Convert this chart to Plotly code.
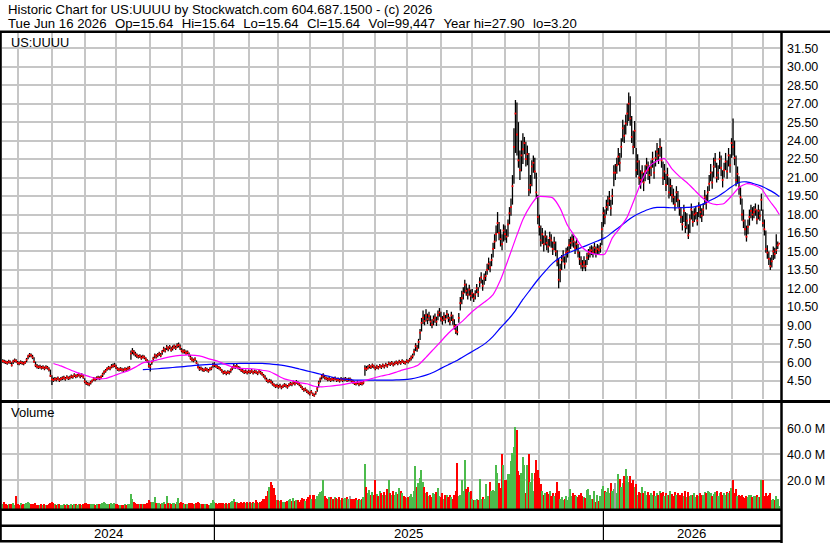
import pandas as pd
import plotly.graph_objects as go

# trading days shown on the chart
days = pd.bdate_range("2024-06-17", "2026-06-16")

# daily closes, one row per week (Mon..Fri)
closes = [
    6.10, 6.05, 6.00, 5.95, 6.05,
    6.00, 5.75, 6.05, 6.15, 6.10,
    5.95, 5.90, 6.00, 5.95, 5.90,
    6.00, 6.20, 6.45, 6.60, 6.55,
    6.40, 6.05, 5.75, 5.65, 5.60,
    5.65, 5.55, 5.60, 5.50, 5.60,
    5.55, 5.40, 4.90, 4.60, 4.55,
    4.65, 4.60, 4.70, 4.55, 4.65,
    4.70, 4.75, 4.65, 4.80, 4.70,
    4.75, 4.85, 4.80, 4.95, 4.85,
    4.90, 5.00, 4.85, 4.95, 4.80,
    4.45, 4.30, 4.25, 4.20, 4.35,
    4.50, 4.65, 4.60, 4.70, 4.75,
    4.70, 4.80, 5.00, 5.20, 5.30,
    5.45, 5.55, 5.50, 5.65, 5.70,
    5.75, 5.60, 5.45, 5.40, 5.45,
    5.40, 5.35, 5.45, 5.40, 5.50,
    5.55, 6.70, 6.90, 6.80, 6.65,
    6.55, 6.45, 6.50, 6.35, 6.45,
    6.40, 6.25, 6.10, 5.70, 5.65,
    6.00, 6.30, 6.55, 6.45, 6.60,
    6.70, 6.55, 6.85, 7.05, 6.95,
    7.20, 7.10, 7.25, 7.00, 7.15,
    7.30, 7.15, 7.35, 7.40, 7.20,
    6.95, 6.85, 6.90, 6.75, 6.80,
    6.60, 6.35, 6.20, 6.15, 6.25,
    5.95, 5.60, 5.45, 5.50, 5.40,
    5.35, 5.45, 5.40, 5.30, 5.45,
    5.50, 5.75, 5.80, 5.70, 5.60,
    5.55, 5.45, 5.30, 5.15, 5.20,
    5.10, 5.20, 5.15, 5.35, 5.55,
    5.65, 5.60, 5.70, 5.55, 5.50,
    5.35, 5.30, 5.20, 5.25, 5.15,
    5.25, 5.20, 5.30, 5.15, 5.25,
    5.20, 5.10, 5.25, 5.15, 5.05,
    4.90, 4.75, 4.55, 4.45, 4.50,
    4.40, 4.25, 4.15, 4.05, 4.10,
    4.00, 4.10, 3.95, 4.05, 4.15,
    4.10, 4.00, 4.15, 4.25, 4.20,
    4.35, 4.25, 4.40, 4.30, 4.20,
    4.05, 3.90, 3.75, 3.80, 3.65,
    3.55, 3.45, 3.60, 3.40, 3.30,
    3.55, 3.85, 4.30, 4.60, 4.85,
    4.95, 4.75, 4.70, 4.60, 4.65,
    4.55, 4.65, 4.60, 4.70, 4.55,
    4.60, 4.50, 4.65, 4.55, 4.60,
    4.65, 4.55, 4.60, 4.60, 4.50,
    4.40, 4.30, 4.25, 4.35, 4.20,
    4.30, 4.25, 4.35, 5.50, 5.45,
    5.55, 5.70, 5.60, 5.75, 5.65,
    5.50, 5.65, 5.55, 5.70, 5.60,
    5.75, 5.65, 5.80, 5.70, 5.90,
    5.85, 5.95, 5.80, 5.90, 6.00,
    5.90, 6.05, 5.95, 6.10, 6.00,
    5.95, 6.10, 6.05, 6.20, 6.35,
    6.50, 6.85, 7.30, 7.10, 7.65,
    8.40, 9.20, 9.60, 9.35, 9.80,
    9.50, 9.75, 9.30, 9.05, 9.45,
    9.60, 9.30, 9.85, 10.05, 9.55,
    9.40, 9.70, 9.50, 9.90, 9.60,
    9.30, 9.80, 9.45, 8.95, 8.55,
    8.45, 9.60, 10.80, 11.20, 11.60,
    12.30, 11.80, 11.50, 11.90, 11.40,
    11.60, 11.20, 11.50, 12.00, 11.70,
    12.50, 12.90, 12.20, 12.80, 13.00,
    13.50, 14.00, 13.70, 14.30, 15.20,
    15.80, 16.40, 17.30, 16.50, 16.00,
    15.60, 16.70, 16.40, 16.20, 17.20,
    18.10, 18.60, 20.30, 23.50, 26.20,
    24.50, 22.40, 21.60, 22.80, 23.30,
    23.80, 22.50, 22.90, 20.00, 20.40,
    21.90, 22.20, 21.50, 19.80, 17.80,
    17.00, 15.90, 16.40, 15.60, 16.20,
    15.70, 15.40, 16.10, 15.90, 15.20,
    15.70, 15.00, 14.20, 12.70, 13.50,
    14.30, 14.60, 14.00, 14.90, 15.00,
    15.50, 15.70, 16.00, 15.80, 15.30,
    15.60, 14.90, 14.40, 14.00, 13.80,
    14.10, 13.80, 14.50, 14.80, 15.00,
    15.10, 14.90, 15.30, 15.00, 15.20,
    15.10, 15.30, 16.80, 18.10, 17.80,
    18.60, 18.90, 19.30, 18.50, 19.50,
    21.40, 21.40, 22.00, 22.70, 22.20,
    23.50, 25.00, 24.40, 25.40, 26.20,
    27.00, 25.80, 24.30, 23.50, 24.80,
    21.60, 22.30, 21.00, 20.80, 21.40,
    20.60, 21.50, 22.00, 21.60, 21.20,
    21.80, 22.50, 21.40, 22.60, 23.10,
    22.80, 23.50, 22.40, 21.00, 21.50,
    20.40, 21.20, 19.80, 20.30, 19.60,
    19.40, 18.80, 19.80, 19.20, 18.50,
    17.80, 17.20, 18.30, 17.00, 17.50,
    16.30, 17.60, 18.40, 17.40, 18.00,
    18.10, 17.50, 18.60, 18.20, 17.90,
    18.40, 19.40, 18.90, 19.80, 20.50,
    21.40, 20.60, 21.90, 22.40, 21.00,
    21.40, 22.50, 21.80, 20.80, 21.60,
    22.30, 21.50, 22.80, 22.00, 23.80,
    23.50, 22.60, 20.80, 21.30, 20.20,
    19.40, 18.00, 17.50, 16.80, 16.20,
    17.00, 17.80, 18.30, 18.00, 18.20,
    18.40, 17.60, 18.30, 17.90, 19.20,
    17.30, 16.80, 15.20, 14.90, 14.40,
    13.80, 14.20, 15.00, 14.80, 15.10,
    15.50, 15.64,
]

highs = [
    6.25, 6.20, 6.15, 6.10, 6.20,
    6.15, 6.00, 6.20, 6.30, 6.25,
    6.10, 6.05, 6.15, 6.10, 6.05,
    6.10, 6.35, 6.60, 6.75, 6.70,
    6.60, 6.40, 6.05, 5.85, 5.75,
    5.80, 5.70, 5.75, 5.65, 5.75,
    5.70, 5.60, 5.40, 4.95, 4.75,
    4.80, 4.75, 4.85, 4.70, 4.80,
    4.85, 4.90, 4.80, 4.95, 4.85,
    4.90, 5.00, 4.95, 5.10, 5.00,
    5.05, 5.15, 5.00, 5.10, 4.95,
    4.70, 4.50, 4.40, 4.35, 4.50,
    4.60, 4.80, 4.75, 4.85, 4.90,
    4.85, 4.95, 5.15, 5.35, 5.45,
    5.60, 5.70, 5.65, 5.85, 5.90,
    5.95, 5.80, 5.60, 5.55, 5.60,
    5.55, 5.50, 5.60, 5.55, 5.65,
    5.70, 6.95, 7.15, 7.00, 6.85,
    6.70, 6.60, 6.65, 6.55, 6.60,
    6.55, 6.40, 6.25, 6.15, 5.85,
    6.15, 6.45, 6.70, 6.65, 6.75,
    6.85, 6.75, 7.00, 7.25, 7.15,
    7.40, 7.30, 7.40, 7.25, 7.35,
    7.45, 7.35, 7.55, 7.60, 7.45,
    7.15, 7.05, 7.05, 6.95, 6.95,
    6.80, 6.60, 6.40, 6.30, 6.40,
    6.15, 5.90, 5.65, 5.65, 5.55,
    5.50, 5.60, 5.55, 5.45, 5.60,
    5.65, 5.95, 6.00, 5.85, 5.75,
    5.70, 5.60, 5.45, 5.30, 5.35,
    5.25, 5.35, 5.30, 5.50, 5.70,
    5.85, 5.75, 5.85, 5.70, 5.65,
    5.50, 5.45, 5.35, 5.40, 5.30,
    5.40, 5.35, 5.45, 5.30, 5.40,
    5.35, 5.25, 5.40, 5.30, 5.20,
    5.05, 4.95, 4.75, 4.60, 4.65,
    4.60, 4.45, 4.30, 4.20, 4.25,
    4.15, 4.25, 4.10, 4.20, 4.30,
    4.25, 4.15, 4.30, 4.40, 4.35,
    4.50, 4.40, 4.55, 4.45, 4.35,
    4.20, 4.05, 3.90, 3.95, 3.80,
    3.70, 3.60, 3.75, 3.55, 3.45,
    3.65, 4.00, 4.50, 4.75, 5.05,
    5.10, 4.95, 4.85, 4.75, 4.80,
    4.70, 4.80, 4.75, 4.85, 4.70,
    4.75, 4.65, 4.80, 4.70, 4.75,
    4.80, 4.70, 4.75, 4.75, 4.65,
    4.55, 4.45, 4.40, 4.50, 4.35,
    4.45, 4.40, 4.50, 5.75, 5.70,
    5.75, 5.85, 5.75, 5.90, 5.80,
    5.65, 5.80, 5.70, 5.85, 5.75,
    5.90, 5.80, 5.95, 5.85, 6.05,
    6.00, 6.10, 5.95, 6.05, 6.15,
    6.05, 6.20, 6.10, 6.25, 6.15,
    6.10, 6.25, 6.20, 6.35, 6.55,
    6.70, 7.10, 7.55, 7.40, 7.90,
    8.70, 9.60, 10.20, 9.90, 10.30,
    9.95, 10.10, 9.80, 9.50, 9.80,
    9.95, 9.70, 10.20, 10.40, 10.10,
    9.75, 10.05, 9.85, 10.25, 9.95,
    9.70, 10.10, 9.85, 9.50, 9.10,
    8.95, 10.00, 11.30, 11.80, 12.10,
    12.70, 12.40, 12.00, 12.30, 11.90,
    11.95, 11.60, 11.85, 12.35, 12.10,
    12.90, 13.30, 12.70, 13.20, 13.40,
    14.00, 14.50, 14.20, 14.80, 15.70,
    16.40, 17.10, 18.20, 17.40, 16.80,
    16.40, 17.20, 17.10, 16.80, 17.60,
    18.60, 19.30, 21.20, 25.00, 27.30,
    27.10, 25.50, 23.20, 24.00, 24.60,
    24.30, 23.90, 23.60, 23.00, 21.20,
    22.40, 22.80, 22.60, 21.40, 19.60,
    18.00, 17.10, 16.90, 16.30, 16.70,
    16.30, 16.00, 16.60, 16.40, 15.80,
    16.20, 15.80, 15.10, 14.40, 14.00,
    14.70, 15.10, 14.60, 15.30, 15.40,
    16.00, 16.20, 16.40, 16.30, 15.80,
    16.10, 15.60, 15.00, 14.60, 14.30,
    14.60, 14.30, 14.90, 15.20, 15.40,
    15.50, 15.40, 15.70, 15.40, 15.60,
    15.50, 15.70, 17.40, 18.60, 18.40,
    19.20, 19.50, 19.90, 19.20, 20.10,
    22.00, 22.10, 22.60, 23.40, 23.00,
    24.20, 25.70, 25.30, 26.10, 27.00,
    27.90, 27.60, 26.00, 24.80, 25.60,
    23.40, 22.90, 22.40, 21.60, 22.00,
    21.40, 22.00, 22.60, 22.30, 21.90,
    22.40, 23.10, 22.30, 23.20, 23.80,
    23.40, 24.20, 23.50, 22.30, 22.10,
    21.30, 21.80, 21.00, 20.90, 20.40,
    20.10, 19.50, 20.30, 19.90, 19.20,
    18.60, 17.90, 18.80, 18.20, 18.10,
    17.20, 18.00, 18.90, 18.30, 18.50,
    18.60, 18.20, 19.00, 18.80, 18.50,
    18.90, 20.00, 19.60, 20.30, 21.20,
    22.10, 21.50, 22.60, 23.00, 22.20,
    22.00, 23.10, 22.80, 21.60, 22.20,
    23.00, 22.40, 23.40, 22.90, 24.20,
    25.80, 24.00, 22.80, 21.90, 21.10,
    20.20, 19.30, 18.40, 17.60, 17.10,
    17.60, 18.40, 18.80, 18.60, 18.70,
    18.90, 18.40, 18.80, 18.40, 19.70,
    18.40, 17.60, 16.70, 15.50, 15.00,
    14.50, 14.70, 15.40, 15.30, 16.40,
    15.80, 15.64,
]

lows = [
    5.95, 5.90, 5.85, 5.80, 5.90,
    5.85, 5.65, 5.85, 6.00, 5.95,
    5.80, 5.75, 5.85, 5.80, 5.75,
    5.85, 6.00, 6.25, 6.40, 6.40,
    6.25, 5.95, 5.60, 5.50, 5.45,
    5.50, 5.40, 5.45, 5.35, 5.45,
    5.40, 5.25, 4.80, 4.15, 4.40,
    4.50, 4.45, 4.55, 4.40, 4.50,
    4.55, 4.60, 4.50, 4.65, 4.55,
    4.60, 4.70, 4.65, 4.80, 4.70,
    4.75, 4.85, 4.70, 4.80, 4.65,
    4.30, 4.15, 4.10, 4.05, 4.20,
    4.35, 4.50, 4.45, 4.55, 4.60,
    4.55, 4.65, 4.80, 5.00, 5.15,
    5.30, 5.40, 5.35, 5.50, 5.55,
    5.60, 5.45, 5.30, 5.25, 5.30,
    5.25, 5.20, 5.30, 5.25, 5.35,
    5.40, 6.20, 6.65, 6.55, 6.45,
    6.35, 6.30, 6.35, 6.20, 6.30,
    6.25, 6.10, 5.95, 5.55, 5.25,
    5.80, 6.05, 6.30, 6.30, 6.40,
    6.50, 6.40, 6.60, 6.85, 6.80,
    7.00, 6.90, 7.05, 6.85, 6.95,
    7.10, 7.00, 7.15, 7.20, 7.00,
    6.80, 6.70, 6.70, 6.60, 6.65,
    6.45, 6.20, 6.05, 6.00, 6.10,
    5.85, 5.50, 5.30, 5.35, 5.25,
    5.20, 5.30, 5.25, 5.15, 5.30,
    5.35, 5.55, 5.60, 5.55, 5.45,
    5.40, 5.30, 5.15, 5.00, 5.05,
    4.95, 5.05, 5.00, 5.15, 5.35,
    5.50, 5.45, 5.55, 5.40, 5.35,
    5.20, 5.15, 5.05, 5.10, 5.00,
    5.10, 5.05, 5.15, 5.00, 5.10,
    5.05, 4.95, 5.10, 5.00, 4.90,
    4.75, 4.60, 4.40, 4.30, 4.35,
    4.25, 4.10, 4.00, 3.90, 3.95,
    3.85, 3.95, 3.80, 3.90, 4.00,
    3.95, 3.85, 4.00, 4.10, 4.05,
    4.20, 4.10, 4.25, 4.15, 4.05,
    3.90, 3.75, 3.60, 3.65, 3.50,
    3.40, 3.30, 3.45, 3.25, 3.20,
    3.35, 3.60, 3.95, 4.35, 4.60,
    4.70, 4.60, 4.55, 4.45, 4.50,
    4.40, 4.50, 4.45, 4.55, 4.40,
    4.45, 4.35, 4.50, 4.40, 4.45,
    4.50, 4.40, 4.45, 4.45, 4.35,
    4.25, 4.15, 4.10, 4.20, 4.05,
    4.15, 4.10, 4.20, 4.90, 5.30,
    5.40, 5.50, 5.45, 5.55, 5.50,
    5.35, 5.45, 5.40, 5.55, 5.45,
    5.60, 5.50, 5.65, 5.55, 5.75,
    5.70, 5.80, 5.65, 5.75, 5.85,
    5.75, 5.90, 5.80, 5.95, 5.85,
    5.80, 5.95, 5.90, 6.05, 6.15,
    6.30, 6.55, 6.90, 6.85, 7.10,
    7.80, 8.50, 9.10, 9.00, 9.30,
    9.10, 9.35, 8.95, 8.75, 9.00,
    9.20, 8.95, 9.40, 9.70, 9.30,
    9.05, 9.35, 9.15, 9.55, 9.25,
    9.00, 9.35, 9.05, 8.65, 8.30,
    8.20, 9.20, 10.20, 10.70, 11.10,
    11.60, 11.40, 11.10, 11.40, 11.00,
    11.20, 10.90, 11.10, 11.60, 11.30,
    12.10, 12.40, 11.80, 12.30, 12.60,
    13.10, 13.50, 13.30, 13.80, 14.50,
    15.20, 15.80, 16.50, 15.90, 15.40,
    15.10, 15.80, 15.90, 15.70, 16.20,
    17.20, 17.90, 18.80, 20.50, 23.00,
    22.80, 21.80, 20.80, 21.50, 22.10,
    22.90, 21.90, 22.00, 19.50, 19.70,
    20.30, 21.40, 20.90, 19.30, 17.20,
    16.30, 15.40, 15.60, 15.00, 15.50,
    15.10, 14.90, 15.40, 15.30, 14.70,
    15.10, 14.60, 13.80, 12.00, 12.50,
    13.50, 14.10, 13.60, 14.10, 14.50,
    14.90, 15.20, 15.40, 15.30, 14.80,
    15.10, 14.50, 13.90, 13.60, 13.40,
    13.60, 13.40, 13.90, 14.30, 14.50,
    14.70, 14.50, 14.80, 14.50, 14.80,
    14.70, 14.90, 15.50, 17.00, 17.20,
    18.00, 18.30, 18.70, 17.90, 18.80,
    20.30, 20.80, 21.30, 22.00, 21.50,
    22.60, 23.90, 23.80, 24.50, 25.20,
    25.60, 25.20, 23.80, 22.90, 23.40,
    21.00, 21.20, 20.40, 20.10, 20.60,
    19.90, 20.70, 21.30, 20.80, 20.50,
    21.10, 21.80, 20.90, 21.90, 22.40,
    22.10, 22.70, 21.80, 20.40, 20.80,
    19.90, 20.40, 19.30, 19.50, 19.00,
    18.80, 18.30, 19.00, 18.60, 17.90,
    17.30, 16.70, 17.40, 16.50, 16.80,
    16.00, 16.50, 17.60, 17.00, 17.40,
    17.60, 17.10, 17.80, 17.70, 17.40,
    17.90, 18.80, 18.40, 19.10, 19.90,
    20.70, 20.10, 21.00, 21.80, 20.60,
    20.80, 21.70, 21.10, 20.20, 21.00,
    21.60, 20.90, 21.90, 21.40, 22.60,
    22.80, 22.00, 20.30, 20.50, 19.60,
    18.80, 17.50, 16.90, 16.30, 15.80,
    16.40, 17.10, 17.70, 17.50, 17.70,
    17.90, 17.20, 17.60, 17.50, 18.30,
    17.00, 16.30, 14.90, 14.40, 13.90,
    13.50, 13.70, 14.30, 14.40, 14.80,
    15.20, 15.64,
]

# daily volume, millions of shares
volumes_m = [
    2.1, 3.5, 1.8, 1.2, 1.5,
    1.4, 1.6, 2.2, 1.3, 8.0,
    1.5, 1.1, 2.4, 1.3, 1.6,
    1.8, 2.6, 3.1, 2.2, 1.5,
    1.6, 2.0, 2.4, 1.3, 1.2,
    1.0, 1.4, 1.2, 1.5, 1.1,
    1.3, 1.8, 2.6, 3.0, 2.2,
    1.5, 1.2, 1.7, 1.4, 1.3,
    1.1, 1.6, 1.0, 1.9, 1.2,
    1.3, 1.5, 1.2, 2.0, 1.4,
    1.2, 1.8, 1.5, 1.3, 1.6,
    2.8, 2.2, 1.6, 1.4, 1.7,
    1.5, 2.0, 1.3, 1.6, 1.2,
    1.4, 1.8, 2.5, 3.0, 2.2,
    2.0, 1.6, 1.4, 2.4, 1.7,
    2.6, 1.8, 1.5, 1.3, 1.1,
    1.2, 1.0, 1.4, 1.3, 1.6,
    1.8, 9.5, 5.4, 3.2, 2.4,
    2.0, 1.6, 1.5, 1.8, 1.4,
    1.7, 2.0, 2.8, 4.5, 3.0,
    3.5, 3.2, 7.0, 2.6, 2.4,
    2.2, 1.8, 2.6, 3.4, 2.0,
    8.0, 2.4, 2.8, 2.0, 2.2,
    2.6, 2.0, 3.0, 6.5, 2.4,
    3.0, 2.2, 1.8, 2.0, 1.6,
    2.4, 2.8, 2.2, 1.8, 1.7,
    2.6, 3.4, 2.8, 2.0, 1.8,
    1.6, 1.5, 1.7, 1.3, 1.2,
    2.8, 5.0, 3.6, 2.4, 2.0,
    2.2, 2.4, 2.6, 2.8, 2.0,
    2.4, 2.0, 2.2, 3.6, 4.4,
    5.5, 3.0, 3.4, 2.6, 2.4,
    3.0, 2.8, 3.4, 2.6, 3.2,
    2.8, 3.6, 2.4, 3.0, 2.6,
    5.0, 3.4, 2.8, 3.2, 4.0,
    5.5, 6.0, 8.0, 12.0, 15.0,
    19.0, 16.5, 14.0, 9.0, 5.0,
    4.5, 3.8, 5.0, 3.0, 3.6,
    3.4, 4.2, 5.0, 6.0, 3.8,
    6.5, 4.0, 5.2, 4.6, 3.4,
    5.0, 6.5, 5.8, 4.2, 6.0,
    7.0, 9.0, 6.0, 8.5, 9.0,
    6.0, 8.0, 9.5, 11.0, 12.0,
    20.0, 8.0, 6.5, 5.5, 7.0,
    7.5, 6.0, 5.5, 7.0, 6.5,
    6.0, 7.5, 5.0, 6.5, 5.5,
    6.5, 7.0, 6.0, 8.0, 5.5,
    6.0, 5.5, 6.5, 5.0, 6.0,
    5.0, 6.0, 7.0, 32.5, 15.0,
    10.0, 12.5, 9.0, 11.0, 8.5,
    20.0, 9.5, 8.0, 12.0, 10.5,
    9.0, 11.0, 8.5, 13.0, 20.0,
    10.0, 8.5, 12.0, 9.0, 11.0,
    9.5, 14.0, 12.0, 10.0, 8.0,
    7.0, 6.5, 7.5, 8.0, 9.5,
    7.0, 12.0, 31.0, 14.5, 18.0,
    22.0, 28.0, 19.0, 15.0, 10.0,
    11.0, 8.0, 9.0, 7.0, 10.0,
    9.5, 11.0, 14.0, 8.0, 7.5,
    10.0, 6.0, 8.5, 9.0, 7.0,
    8.5, 7.5, 6.0, 9.0, 12.0,
    33.0, 8.0, 8.5, 20.0, 12.0,
    36.0, 13.0, 15.0, 11.0, 12.0,
    5.5, 5.0, 4.5, 6.0, 5.0,
    21.0, 6.0, 7.0, 5.5, 17.0,
    6.5, 8.0, 19.0, 12.0, 12.5,
    12.0, 31.5, 26.0, 18.0, 14.0,
    40.0, 32.0, 20.0, 20.0, 25.0,
    25.0, 35.0, 41.0, 46.0, 61.0,
    59.0, 27.0, 24.0, 26.0, 38.0,
    32.0, 10.0, 32.0, 40.0, 19.0,
    26.0, 12.0, 26.0, 36.0, 28.0,
    22.0, 17.0, 12.0, 9.0, 10.0,
    11.0, 9.5, 12.0, 8.0, 10.0,
    8.0, 10.0, 19.0, 12.0, 6.0,
    7.0, 5.0, 6.0, 8.0, 4.5,
    7.0, 13.0, 8.0, 10.0, 9.0,
    8.0, 7.5, 9.0, 10.0, 8.0,
    7.0, 6.5, 12.5, 13.0, 9.0,
    6.0, 5.5, 12.0, 3.0, 9.0,
    4.0, 8.0, 13.0, 16.0, 12.0,
    11.0, 14.0, 10.0, 18.0, 12.0,
    13.0, 18.0, 10.0, 25.0, 21.0,
    15.0, 18.0, 23.0, 29.0, 23.0,
    19.0, 23.0, 18.0, 20.0, 15.0,
    17.0, 9.0, 11.0, 10.0, 15.0,
    10.0, 12.0, 9.0, 11.0, 8.5,
    10.0, 9.0, 11.5, 8.0, 10.0,
    9.0, 12.0, 10.0, 11.0, 8.0,
    10.0, 8.5, 9.0, 12.0, 9.5,
    8.0, 11.0, 9.0, 10.0, 8.5,
    9.0, 10.0, 8.0, 12.0, 7.0,
    11.0, 8.0, 9.0, 8.5, 10.0,
    7.0, 9.0, 8.0, 10.0, 9.0,
    9.0, 11.0, 10.0, 12.0, 11.0,
    10.0, 8.0, 9.5, 11.0, 12.0,
    8.0, 10.0, 11.0, 9.0, 10.0,
    9.0, 11.0, 10.0, 12.0, 14.0,
    20.0, 10.0, 13.0, 8.0, 9.0,
    8.0, 9.0, 7.0, 6.5, 8.0,
    7.5, 9.0, 8.5, 7.0, 8.0,
    8.0, 9.0, 7.0, 7.5, 20.0,
    20.0, 8.0, 10.0, 8.0, 9.0,
    10.0, 5.0, 6.0, 5.0, 8.0,
    6.0, 0.099447,
]

# moving averages, one value per week (Fridays) + last day
ma_fast = [None] * 6 + [
    5.90, 5.70, 5.45, 5.20, 5.00, 4.80, 4.65, 4.68, 4.88, 5.10,
    5.30, 5.60, 5.95, 6.05, 6.20, 6.35, 6.48, 6.55, 6.60, 6.55,
    6.45, 6.25, 6.10, 5.85, 5.62, 5.50, 5.48, 5.45, 5.35, 5.25,
    4.95, 4.65, 4.50, 4.35, 4.25, 4.05, 4.00, 4.05, 4.12, 4.20,
    4.32, 4.40, 4.55, 4.72, 4.88, 5.00, 5.20, 5.40, 5.55, 5.80,
    6.40, 7.05, 7.70, 8.35, 8.90, 9.40, 10.00, 10.50, 10.95, 11.50,
    12.70, 14.30, 16.00, 17.60, 18.70, 19.45, 19.45, 19.35, 18.50, 17.10,
    16.20, 15.30, 14.90, 14.75, 14.80, 16.10, 16.90, 17.80, 19.30, 20.80,
    21.95, 22.35, 22.55, 21.70, 21.10, 20.60, 20.00, 19.40, 18.95, 18.80,
    18.90, 19.50, 20.20, 20.50, 20.40, 20.10, 19.20, 18.40, 18.00,
]
ma_slow = [None] * 18 + [
    5.40, 5.43, 5.47, 5.52, 5.57, 5.62, 5.68, 5.74, 5.78, 5.82,
    5.85, 5.87, 5.89, 5.90, 5.90, 5.90, 5.90, 5.86, 5.80, 5.72,
    5.60, 5.45, 5.30, 5.15, 5.00, 4.85, 4.70, 4.62, 4.57, 4.55,
    4.55, 4.55, 4.55, 4.55, 4.56, 4.58, 4.65, 4.78, 4.95, 5.18,
    5.50, 5.80, 6.10, 6.45, 6.80, 7.15, 7.55, 8.10, 8.80, 9.45,
    10.20, 11.10, 11.90, 12.70, 13.40, 14.05, 14.50, 14.85, 15.10, 15.35,
    15.60, 15.85, 16.10, 16.55, 17.00, 17.50, 17.90, 18.20, 18.45, 18.58,
    18.58, 18.55, 18.55, 18.58, 18.62, 18.80, 19.10, 19.40, 19.80, 20.25,
    20.60, 20.65, 20.50, 20.30, 20.00, 19.65, 19.45,
]

price_ticks = [4.5, 6.0, 7.5, 9.0, 10.5, 12.0, 13.5, 15.0, 16.5, 18.0, 19.5,
               21.0, 22.5, 24.0, 25.5, 27.0, 28.5, 30.0, 31.5]
volume_ticks = [20, 40, 60]

W, H = 830, 543
FONT = "Liberation Sans, Arial, sans-serif"
GRID = "#c6c6c6"


def px(x):
    return x / W


def py(y):
    return 1 - y / H


ma_dates = list(days[days.weekday == 4]) + [days[-1]]

# high-low bars as one line trace with gaps
bar_x, bar_y = [], []
for d, hi, lo in zip(days, highs, lows):
    bar_x += [d, d, None]
    bar_y += [lo, hi, None]

# volume colour from close-to-close change
vol_colors = []
prev = None
for c in closes:
    if prev is None or c > prev:
        vol_colors.append("#4cbb4c")
    elif c < prev:
        vol_colors.append("#ff0000")
    else:
        vol_colors.append("#a0a0a0")
    prev = c

month_starts = list(days.to_series().groupby(days.to_period("M")).first())
year_mid = [(str(y), days[days.year == y][len(days[days.year == y]) // 2])
            for y in sorted(set(days.year))]
year_starts = [days[days.year == y][0] for y in sorted(set(days.year))[1:]]

fig = go.Figure()
fig.add_trace(go.Scatter(x=bar_x, y=bar_y, mode="lines",
                         line=dict(color="black", width=1.3), xaxis="x", yaxis="y"))
fig.add_trace(go.Scatter(x=days, y=closes, mode="markers",
                         marker=dict(symbol="square", size=1.8, color="#ff0000", line=dict(width=0)),
                         xaxis="x", yaxis="y"))
fig.add_trace(go.Scatter(x=ma_dates, y=ma_slow, mode="lines",
                         line=dict(color="#0000ff", width=1.2, shape="spline", smoothing=0.5),
                         xaxis="x", yaxis="y"))
fig.add_trace(go.Scatter(x=ma_dates, y=ma_fast, mode="lines",
                         line=dict(color="#ff00ff", width=1.2, shape="spline", smoothing=0.5),
                         xaxis="x", yaxis="y"))

vol_bottom = -2.08
fig.add_trace(go.Bar(x=days, y=[v - vol_bottom for v in volumes_m], base=vol_bottom,
                     marker=dict(color=vol_colors, line=dict(width=0)),
                     width=0.85 * 86400000, xaxis="x2", yaxis="y2"))

xcommon = dict(
    type="date",
    range=["2024-06-14 12:00", "2026-06-16 12:00"],
    rangebreaks=[dict(bounds=["sat", "mon"])],
    tickmode="array", tickvals=month_starts, showticklabels=False,
    showgrid=True, gridcolor=GRID, gridwidth=1.5,
    zeroline=False, showline=False, ticks="",
    domain=[px(2), px(780)],
)
ycommon = dict(
    side="right", showgrid=True, gridcolor=GRID, gridwidth=1.5,
    zeroline=False, showline=False, ticks="", ticklabelstandoff=6,
    tickfont=dict(family=FONT, size=12.5, color="#000000"),
)

shapes = []


def hline(y, x0, x1, w):
    shapes.append(dict(type="line", xref="paper", yref="paper",
                       x0=px(x0), x1=px(x1), y0=py(y), y1=py(y),
                       line=dict(color="black", width=w)))


def vline(x, y0, y1, w):
    shapes.append(dict(type="line", xref="paper", yref="paper",
                       x0=px(x), x1=px(x), y0=py(y0), y1=py(y1),
                       line=dict(color="black", width=w)))


hline(31.8, 0, W, 2.5)
hline(401.5, 0, W, 3)
hline(509.8, 0, 781.5, 2.5)
hline(525.8, 0, 781.5, 2.5)
hline(541.2, 0, 781.5, 2.5)
vline(0.8, 31, 542, 2)
vline(781.5, 31, H, 2.5)
for ys in year_starts:
    shapes.append(dict(type="line", xref="x", yref="paper", x0=ys, x1=ys,
                       y0=py(541), y1=py(510), line=dict(color="black", width=1.2)))

gap = "\u00a0 \u200a"
header2 = gap.join(["Tue Jun 16 2026", "Op=15.64", "Hi=15.64", "Lo=15.64",
                    "Cl=15.64", "Vol=99,447", "Year hi=27.90", "lo=3.20"])
annotations = [
    dict(text="Historic Chart for US:UUUU by Stockwatch.com 604.687.1500 - (c) 2026",
         xref="paper", yref="paper", x=px(6), y=py(9.5), xanchor="left", yanchor="middle",
         showarrow=False, font=dict(family=FONT, size=13.2, color="black")),
    dict(text=header2,
         xref="paper", yref="paper", x=px(6), y=py(23), xanchor="left", yanchor="middle",
         showarrow=False, font=dict(family=FONT, size=13.2, color="black")),
    dict(text="US:UUUU", xref="paper", yref="paper", x=px(9), y=py(42),
         xanchor="left", yanchor="middle", showarrow=False,
         font=dict(family=FONT, size=12.8, color="black")),
    dict(text="Volume", xref="paper", yref="paper", x=px(9), y=py(413),
         xanchor="left", yanchor="middle", showarrow=False,
         font=dict(family=FONT, size=13, color="black")),
]
for label, mid in year_mid:
    annotations.append(dict(text=label, xref="x", yref="paper", x=mid, y=py(533.5),
                            xanchor="center", yanchor="middle", showarrow=False,
                            font=dict(family=FONT, size=13.2, color="black")))

fig.update_layout(
    width=W, height=H,
    margin=dict(l=0, r=0, t=0, b=0),
    paper_bgcolor="white", plot_bgcolor="white",
    showlegend=False, bargap=0,
    xaxis=dict(anchor="y", **xcommon),
    xaxis2=dict(anchor="y2", matches="x", **xcommon),
    yaxis=dict(anchor="x", domain=[py(399), py(33)], range=[3.013, 32.743],
               tickmode="array", tickvals=price_ticks,
               ticktext=["%.2f" % t for t in price_ticks], **ycommon),
    yaxis2=dict(anchor="x2", domain=[py(509), py(403)], range=[vol_bottom, 79.46],
                tickmode="array", tickvals=volume_ticks,
                ticktext=["%.1f M" % t for t in volume_ticks], **ycommon),
    shapes=shapes,
    annotations=annotations,
)

# the page's default body margin would shift the chart by 8px
fig.write_html("out.html", config={"displayModeBar": False},
               post_script="document.body.style.margin='0px';")
